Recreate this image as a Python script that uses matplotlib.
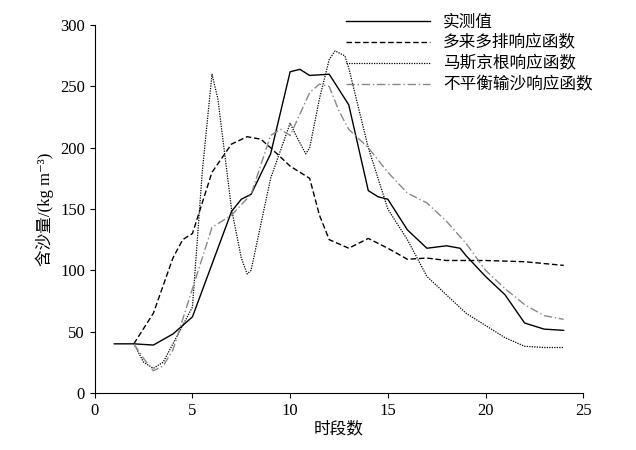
import matplotlib
matplotlib.use("Agg")
import matplotlib.pyplot as plt

plt.rcParams['font.family'] = ['Liberation Serif', 'Noto Sans CJK SC', 'DejaVu Sans']

# measured
x_obs = [1, 2, 3, 4, 5, 6, 7, 7.5, 8, 9, 10, 10.5, 11, 12, 13, 14, 14.5, 15, 16, 17, 18, 18.7, 19, 20, 21, 22, 23, 24]
y_obs = [40, 40, 39, 48, 62, 105, 148, 158, 162, 195, 262, 264, 259, 260, 235, 165, 160, 158, 133, 118, 120, 118, 112, 95, 80, 57, 52, 51]

# multi-input multi-output response function
x_mimo = [2, 3, 4, 4.5, 5, 5.5, 6, 7, 7.8, 8.5, 9, 10, 11, 11.5, 12, 13, 14, 15, 16, 17, 18, 20, 22, 24]
y_mimo = [40, 65, 110, 125, 130, 155, 180, 203, 209, 207, 200, 185, 175, 145, 125, 118, 126, 118, 109, 110, 108, 108, 107, 104]

# Muskingum response function
x_musk = [2, 2.5, 3, 3.5, 4, 5, 5.5, 6, 6.3, 7, 7.5, 7.8, 8, 9, 10, 10.3, 10.8, 11, 11.5, 12, 12.3, 12.8, 13, 14, 15, 16, 17, 18, 19, 20, 21, 22, 23, 24]
y_musk = [40, 25, 20, 25, 40, 70, 180, 260, 240, 150, 110, 97, 100, 175, 220, 210, 195, 200, 240, 272, 279, 275, 265, 200, 150, 125, 95, 80, 65, 55, 45, 38, 37, 37]

# non-equilibrium sediment response function
x_neq = [2, 2.5, 3, 3.5, 4, 5, 5.5, 6, 7, 8, 9, 9.5, 10, 11, 11.5, 12, 12.5, 13, 14, 15, 16, 17, 18, 19, 20, 21, 22, 23, 24]
y_neq = [40, 28, 18, 22, 35, 85, 110, 135, 145, 162, 210, 215, 210, 245, 252, 250, 230, 215, 200, 180, 163, 155, 140, 122, 100, 85, 72, 63, 60]

fig = plt.figure(figsize=(6.36, 4.5), dpi=100)
ax = fig.add_axes([0.149, 0.127, 0.768, 0.817])

ax.plot(x_obs, y_obs, color='black', lw=1.0, label='实测值')
ax.plot(x_mimo, y_mimo, color='black', lw=1.0, ls=(0, (4, 2)), label='多来多排响应函数')
ax.plot(x_musk, y_musk, color='black', lw=0.9, ls=(0, (1, 1)), label='马斯京根响应函数')
ax.plot(x_neq, y_neq, color='#888888', lw=1.0, ls=(0, (6, 2, 1, 2)), label='不平衡输沙响应函数')

ax.set_xlim(0, 25)
ax.set_ylim(0, 300)
ax.set_xticks(range(0, 26, 5))
ax.set_yticks(range(0, 301, 50))
ax.spines['top'].set_visible(False)
ax.spines['right'].set_visible(False)
ax.tick_params(labelsize=12, direction='out')
ax.set_xlabel('时段数', fontsize=12, labelpad=2)
ax.set_ylabel('含沙量/(kg m⁻³)', fontsize=12)

ax.legend(loc='upper right', frameon=False, fontsize=12, handlelength=5,
          bbox_to_anchor=(1.05, 1.07), labelspacing=0.3)

plt.savefig('out.png')
